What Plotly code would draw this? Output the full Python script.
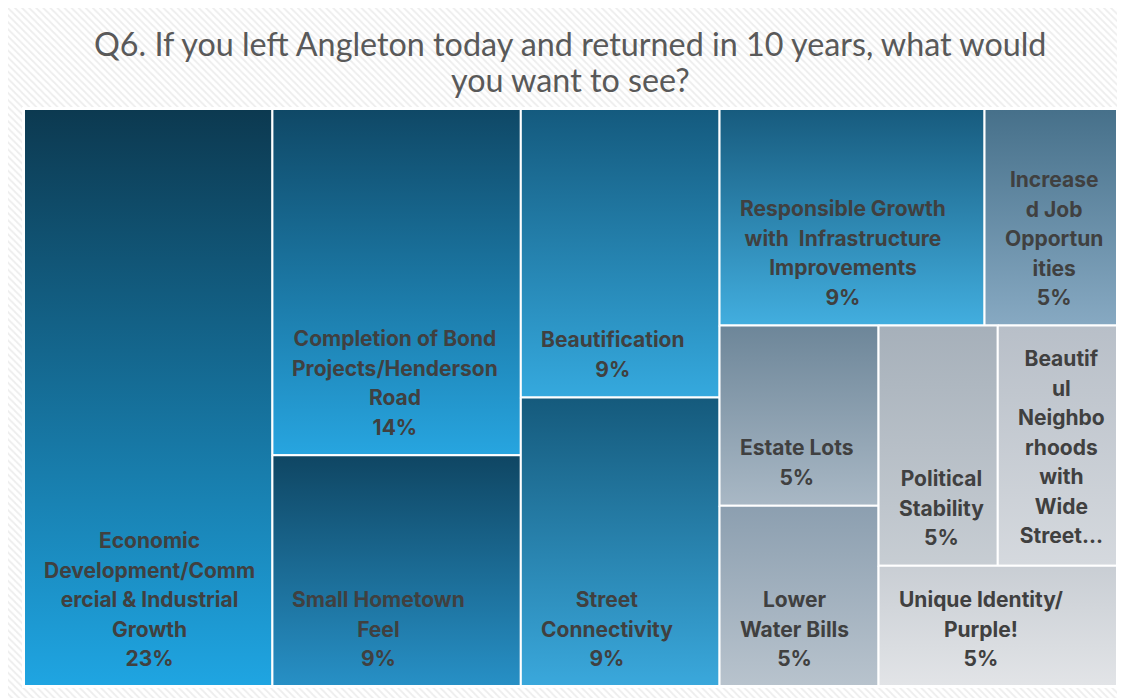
import plotly.graph_objects as go

# survey answers (number of responses)
categories = [
    "Economic Development/Commercial & Industrial Growth",
    "Completion of Bond Projects/Henderson Road",
    "Small Hometown Feel",
    "Beautification",
    "Street Connectivity",
    "Responsible Growth with  Infrastructure Improvements",
    "Increased Job Opportunities",
    "Estate Lots",
    "Lower Water Bills",
    "Political Stability",
    "Beautiful Neighborhoods with Wide Streets",
    "Unique Identity/ Purple!",
]
counts = [5, 3, 2, 2, 2, 2, 1, 1, 1, 1, 1, 1]

# labels as Excel wrapped them
wrapped = [
    "Economic<br>Development/Comm<br>ercial & Industrial<br>Growth",
    "Completion of Bond<br>Projects/Henderson<br>Road",
    "Small Hometown<br>Feel",
    "Beautification",
    "Street<br>Connectivity",
    "Responsible Growth<br>with  Infrastructure<br>Improvements",
    "Increase<br>d Job<br>Opportun<br>ities",
    "Estate Lots",
    "Lower<br>Water Bills",
    "Political<br>Stability",
    "Beautif<br>ul<br>Neighbo<br>rhoods<br>with<br>Wide<br>Streets",
    "Unique Identity/<br>Purple!",
]

top_colors = ["#0c3950", "#0f4866", "#0f4663", "#145a7e", "#155a7c", "#175b7e",
              "#46708a", "#6d8699", "#8c9fb0", "#a6b0ba", "#b8bfc8", "#c9ced4"]
bottom_colors = ["#1fa5e2", "#27a5e0", "#2790c6", "#35a9de", "#3aa8dc", "#42aedf",
                 "#87a9c2", "#a9b8c5", "#b8c3cd", "#c7cdd3", "#d5d9de", "#e2e4e7"]

TITLE_LINES = ["Q6. If you left Angleton today and returned in 10 years, what would",
               "you want to see?"]

# how Excel tiled the cells: "h" = side by side, "v" = stacked, ints index the data
TILING = ("h", [0, ("v", [1, 2]), ("v", [3, 4]),
                ("v", [("h", [5, 6]),
                       ("h", [("v", [7, 8]),
                              ("v", [("h", [9, 10]), 11])])])])

# page coordinates: the figure sits 8px in from the window corner (body margin)
OFF = 8
W, H = 1125, 698
AREA = (24, 109, 1117, 686)
FONT_SIZE = 21
LINE_H = 29.5
BOTTOM_GAP = 28
TOP_GAP = 33
LEFT_PAD = 19


def weight(node):
    if isinstance(node, int):
        return counts[node]
    return sum(weight(k) for k in node[1])


def tile(node, x0, y0, x1, y1, out):
    if isinstance(node, int):
        out[node] = (x0, y0, x1, y1)
        return
    kind, kids = node
    total = weight(node)
    pos = x0 if kind == "h" else y0
    for k in kids:
        share = weight(k) / total
        if kind == "h":
            nxt = pos + (x1 - x0) * share
            tile(k, pos, y0, nxt, y1, out)
        else:
            nxt = pos + (y1 - y0) * share
            tile(k, x0, pos, x1, nxt, out)
        pos = nxt


rects = {}
tile(TILING, *AREA, rects)
total = sum(counts)

fig = go.Figure()

# hatched chart-area background
fig.add_trace(go.Scatter(
    x=[7, W + 20, W + 20, 7, 7], y=[6, 6, H + 20, H + 20, 6],
    mode="lines", fill="toself", line=dict(color="#d9d9d9", width=2),
    fillpattern=dict(shape="\\", fgcolor="#dcdcdc", bgcolor="white", size=5, solidity=0.35),
    hoverinfo="skip", showlegend=False,
))
ax0, ay0, ax1, ay1 = AREA
fig.add_trace(go.Scatter(
    x=[ax0 - 2, ax1 + 2, ax1 + 2, ax0 - 2, ax0 - 2], y=[ay0 - 2, ay0 - 2, ay1 + 2, ay1 + 2, ay0 - 2],
    mode="lines", fill="toself", fillcolor="white", line=dict(width=0),
    hoverinfo="skip", showlegend=False,
))

# line pitch comes from the annotation font size, glyphs from the inner span
label_font = dict(family="Inter, Roboto, sans-serif", size=LINE_H / 1.3, color="#404040")

for i, name in enumerate(categories):
    x0, y0, x1, y1 = rects[i]
    pct = f"{round(counts[i] / total * 100)}%"
    fig.add_trace(go.Scatter(
        x=[x0, x1, x1, x0, x0], y=[y0, y0, y1, y1, y0],
        mode="lines", fill="toself", hoveron="fills",
        line=dict(color="white", width=2),
        fillgradient=dict(type="vertical", start=y0, stop=y1,
                          colorscale=[[0, top_colors[i]], [1, bottom_colors[i]]]),
        name=name, text=f"{name}: {counts[i]} ({pct})", hoverinfo="text",
        showlegend=False,
    ))

    lines = wrapped[i].split("<br>") + [pct]
    max_lines = int((y1 - y0 - TOP_GAP - BOTTOM_GAP) // LINE_H) + 1
    if len(lines) > max_lines:
        lines = lines[:max_lines]
        lines[-1] = lines[-1][:-1] + "..."
        mid = y0 + TOP_GAP + (len(lines) - 1) * LINE_H / 2
    else:
        mid = y1 - BOTTOM_GAP - (len(lines) - 1) * LINE_H / 2
    text = "<br>".join(f'<span style="font-size:{FONT_SIZE}px"><b>{ln}</b></span>' for ln in lines)
    fig.add_annotation(
        x=x0 + LEFT_PAD, y=mid, xref="x", yref="y",
        text=text, showarrow=False, borderpad=0,
        xanchor="left", yanchor="middle", align="center", font=label_font,
    )

for k, ln in enumerate(TITLE_LINES):
    fig.add_annotation(
        x=570, y=43 + k * 36.5, xref="x", yref="y", text=ln, showarrow=False,
        xanchor="center", yanchor="middle",
        font=dict(family="Lato, sans-serif", size=32.3, color="#595959"),
    )

fig.update_xaxes(range=[OFF, W], visible=False, fixedrange=True)
fig.update_yaxes(range=[H, OFF], visible=False, fixedrange=True)
fig.update_layout(
    width=W - OFF, height=H - OFF,
    margin=dict(l=0, r=0, t=0, b=0),
    paper_bgcolor="white", plot_bgcolor="white",
)

fig.write_html("out.html")
